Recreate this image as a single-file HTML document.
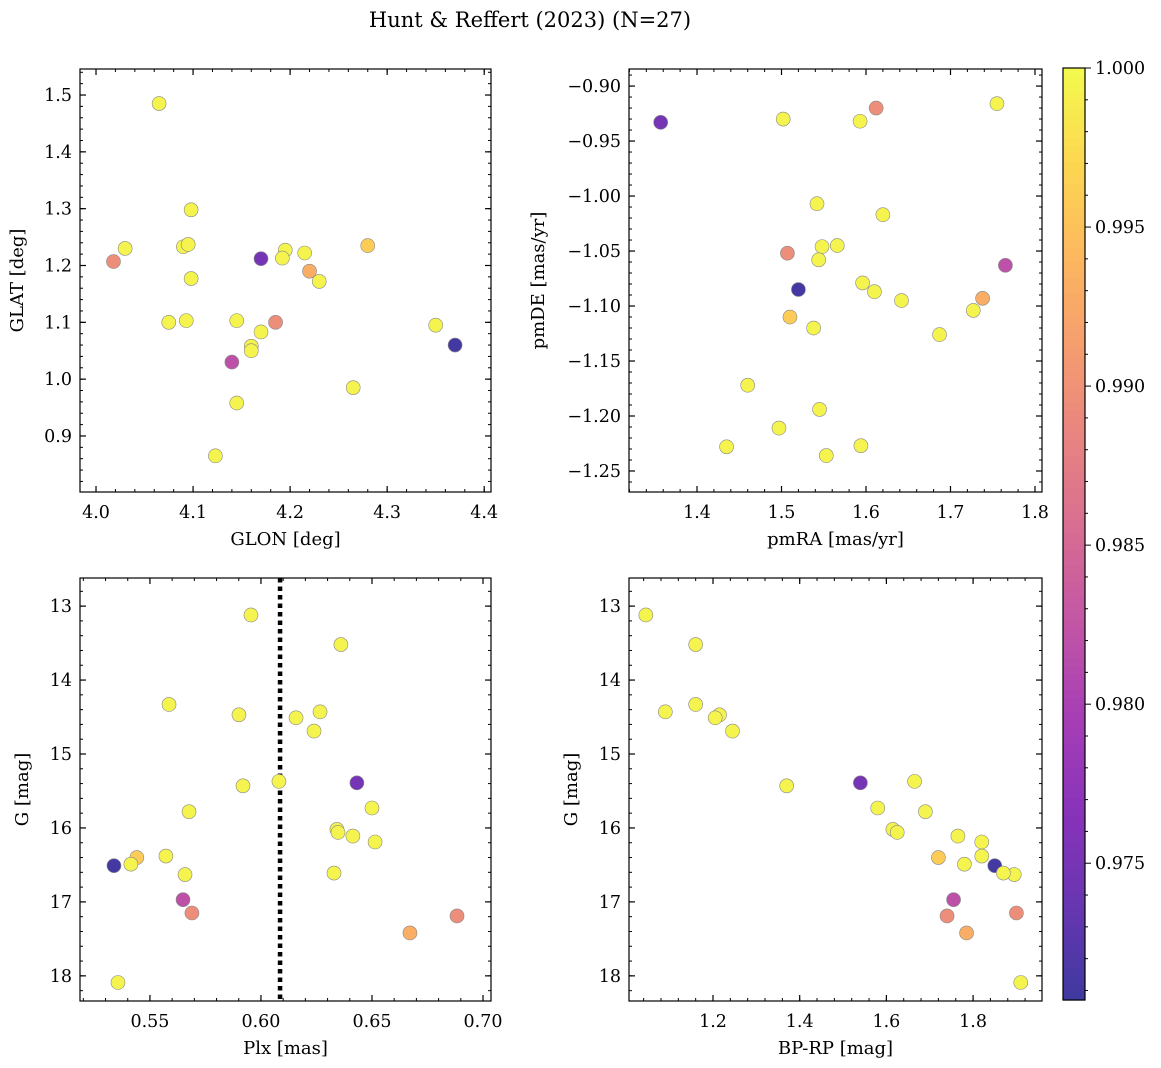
<!DOCTYPE html>
<html><head><meta charset="utf-8"><style>
body{margin:0;background:#fff;}
svg{display:block;font-family:"DejaVu Serif","Liberation Serif",serif;}
</style></head><body>
<svg id="fig" width="1161" height="1068" viewBox="0 0 1161 1068">
<text x="530" y="27" font-size="21" text-anchor="middle">Hunt &amp; Reffert (2023) (N=27)</text>
</svg>
<script>
// Star data (one entry per star)
const plx  = [0.5955,0.636,0.5586,0.5901,0.6158,0.6266,0.6239,0.5919,0.6081,0.6432,0.5676,0.65,0.6342,0.6347,0.6414,0.6514,0.5572,0.5441,0.5414,0.5338,0.5658,0.6329,0.5649,0.5689,0.6883,0.6671,0.5356];
const gmag = [13.12,13.52,14.33,14.47,14.51,14.43,14.69,15.43,15.37,15.39,15.78,15.73,16.02,16.06,16.11,16.19,16.38,16.40,16.49,16.51,16.63,16.61,16.97,17.15,17.19,17.42,18.09];
const bprp = [1.045,1.16,1.16,1.215,1.205,1.09,1.245,1.37,1.665,1.54,1.69,1.58,1.615,1.625,1.765,1.82,1.82,1.72,1.78,1.85,1.895,1.87,1.755,1.9,1.74,1.785,1.91];
const glon = [4.065,4.098,4.03,4.09,4.095,4.098,4.075,4.093,4.195,4.17,4.215,4.192,4.23,4.145,4.17,4.16,4.16,4.28,4.35,4.37,4.265,4.145,4.14,4.018,4.185,4.22,4.123];
const glat = [1.485,1.298,1.23,1.233,1.237,1.177,1.10,1.103,1.227,1.212,1.222,1.213,1.172,1.103,1.083,1.058,1.05,1.235,1.095,1.06,0.985,0.958,1.03,1.207,1.10,1.19,0.865];
const pmra = [1.502,1.593,1.755,1.542,1.62,1.548,1.566,1.544,1.596,1.357,1.61,1.642,1.727,1.538,1.687,1.46,1.545,1.51,1.497,1.52,1.435,1.594,1.765,1.612,1.507,1.738,1.553];
const pmde = [-0.93,-0.932,-0.916,-1.007,-1.017,-1.046,-1.045,-1.058,-1.079,-0.933,-1.087,-1.095,-1.104,-1.12,-1.126,-1.172,-1.194,-1.11,-1.211,-1.085,-1.228,-1.227,-1.063,-0.92,-1.052,-1.093,-1.236];
const prob = [0.9995,0.9995,0.9995,0.9995,0.9995,0.9995,0.9995,0.9995,0.9995,0.975,0.9995,0.9995,0.9995,0.9995,0.9995,0.9995,0.9995,0.996,0.9995,0.9712,0.9995,0.9995,0.982,0.9895,0.9895,0.993,0.9995];
const vmin = 0.9707, vmax = 1.0;
const plxLine = 0.6086;

const NS="http://www.w3.org/2000/svg";
const svg=document.getElementById('fig');
function el(t,a,p){const e=document.createElementNS(NS,t);for(const k in a)e.setAttribute(k,a[k]);(p||svg).appendChild(e);return e;}
const stops=[[13,8,135],[65,4,157],[106,0,168],[143,13,164],[177,42,144],[204,71,120],[225,100,98],[242,132,75],[252,166,54],[252,206,37],[240,249,33]];
function plasma(t){t=Math.max(0,Math.min(1,t))*10;const i=Math.min(9,Math.floor(t)),f=t-i;const a=stops[i],b=stops[i+1];
 const c=[0,1,2].map(k=>Math.round((a[k]+(b[k]-a[k])*f)*0.8+255*0.2));return `rgb(${c[0]},${c[1]},${c[2]})`;}
function fmt(v,d){const s=Math.abs(v).toFixed(d);return (v<-1e-9?'\u2212':'')+s;}

function panel(o){
 const g=el('g',{});
 
 
 const X=v=>o.x0+(v-o.xmin)/(o.xmax-o.xmin)*(o.x1-o.x0);
 const Y=v=>o.inv? o.y0+(v-o.ymin)/(o.ymax-o.ymin)*(o.y1-o.y0) : o.y1-(v-o.ymin)/(o.ymax-o.ymin)*(o.y1-o.y0);
 const tk=(lo,hi,step)=>{const r=[];for(let v=Math.ceil(lo/step-1e-6)*step;v<=hi+1e-9;v+=step)r.push(Math.round(v/step)*step);return r;};
 tk(o.xmin,o.xmax,o.xminor).forEach(v=>{const x=X(v);el('line',{x1:x,x2:x,y1:o.y1,y2:o.y1-3,stroke:'#000','stroke-width':1},g);el('line',{x1:x,x2:x,y1:o.y0,y2:o.y0+3,stroke:'#000','stroke-width':1},g);});
 tk(o.ymin,o.ymax,o.yminor).forEach(v=>{const y=Y(v);el('line',{x1:o.x0,x2:o.x0+3,y1:y,y2:y,stroke:'#000','stroke-width':1},g);el('line',{x1:o.x1,x2:o.x1-3,y1:y,y2:y,stroke:'#000','stroke-width':1},g);});
 tk(o.xmin,o.xmax,o.xmajor).forEach(v=>{const x=X(v);el('line',{x1:x,x2:x,y1:o.y1,y2:o.y1-6,stroke:'#000','stroke-width':1.2},g);el('line',{x1:x,x2:x,y1:o.y0,y2:o.y0+6,stroke:'#000','stroke-width':1.2},g);
  const t=el('text',{x:x,y:o.y1+26,'font-size':17.5,'text-anchor':'middle'},g);t.textContent=fmt(v,o.xd);
  
  });
 tk(o.ymin,o.ymax,o.ymajor).forEach(v=>{const y=Y(v);el('line',{x1:o.x0,x2:o.x0+6,y1:y,y2:y,stroke:'#000','stroke-width':1.2},g);el('line',{x1:o.x1,x2:o.x1-6,y1:y,y2:y,stroke:'#000','stroke-width':1.2},g);
  const t=el('text',{x:o.x0-8,y:y+6,'font-size':17.5,'text-anchor':'end'},g);t.textContent=fmt(v,o.yd);
  
  });
 if(o.vline!==undefined){const x=X(o.vline);const l=el('line',{x1:x,x2:x,y1:o.y0,y2:o.y1,stroke:'#000','stroke-width':4.5,'stroke-dasharray':'4.5 4'},g);
  
  }
 o.xs.forEach((xv,i)=>{const c=el('circle',{cx:X(xv),cy:Y(o.ys[i]),r:7,fill:plasma((prob[i]-vmin)/(vmax-vmin)),stroke:'#888','stroke-width':0.6},g);
  
  });
 el('rect',{x:o.x0,y:o.y0,width:o.x1-o.x0,height:o.y1-o.y0,fill:'none',stroke:'#000','stroke-width':1.2},g);
 const xl=el('text',{x:(o.x0+o.x1)/2,y:o.y1+53,'font-size':18,'text-anchor':'middle'},g);xl.textContent=o.xlabel;
 
 
 const yx=o.x0-o.ylo, yy=(o.y0+o.y1)/2;
 const yl=el('text',{x:yx,y:yy,'font-size':18,'text-anchor':'middle',transform:`rotate(-90 ${yx} ${yy})`},g);yl.textContent=o.ylabel;
 
 
}
panel({name:'panel-glon-glat',x0:80,x1:491,y0:69,y1:492,xmin:3.9835,xmax:4.407,ymin:0.8014,ymax:1.5458,xmajor:0.1,xminor:0.02,ymajor:0.1,yminor:0.02,xd:1,yd:1,xs:glon,ys:glat,xlabel:'GLON [deg]',ylabel:'GLAT [deg]',ylo:57});
panel({name:'panel-proper-motion',x0:629,x1:1042,y0:69,y1:492,xmin:1.3195,xmax:1.8083,ymin:-1.2691,ymax:-0.8845,xmajor:0.1,xminor:0.02,ymajor:0.05,yminor:0.01,xd:1,yd:2,xs:pmra,ys:pmde,xlabel:'pmRA [mas/yr]',ylabel:'pmDE [mas/yr]',ylo:85});
panel({name:'panel-plx-g',x0:80,x1:491,y0:578,y1:1001,xmin:0.5185,xmax:0.7036,ymin:12.62,ymax:18.34,inv:true,xmajor:0.05,xminor:0.01,ymajor:1,yminor:0.2,xd:2,yd:0,xs:plx,ys:gmag,xlabel:'Plx [mas]',ylabel:'G [mag]',ylo:52,vline:plxLine});
panel({name:'panel-cmd',x0:629,x1:1042,y0:578,y1:1001,xmin:1.0062,xmax:1.959,ymin:12.62,ymax:18.34,inv:true,xmajor:0.2,xminor:0.04,ymajor:1,yminor:0.2,xd:1,yd:0,xs:bprp,ys:gmag,xlabel:'BP-RP [mag]',ylabel:'G [mag]',ylo:52});

(function(){
 const cb=el('g',{});
 
 
 const x0=1063,x1=1085,y0=68,y1=1000,N=120;
 for(let i=0;i<N;i++){const t=i/N;el('rect',{x:x0,y:y1-(i+1)*(y1-y0)/N,width:x1-x0,height:(y1-y0)/N+0.6,fill:plasma(t+0.5/N)},cb);}
 el('rect',{x:x0,y:y0,width:x1-x0,height:y1-y0,fill:'none',stroke:'#000','stroke-width':1.2},cb);
 const Y=v=>y1-(v-vmin)/(vmax-vmin)*(y1-y0);
 for(let k=Math.ceil(vmin*1000);k<=1000;k++){const y=Y(k/1000);const maj=k%5===0;
  el('line',{x1:x1,x2:x1+(maj?6:3),y1:y,y2:y,stroke:'#000','stroke-width':1},cb);
  if(maj){const t=el('text',{x:x1+10,y:y+6,'font-size':17.5},cb);t.textContent=(k/1000).toFixed(3);
   
   }}
})();
</script>
</body></html>
